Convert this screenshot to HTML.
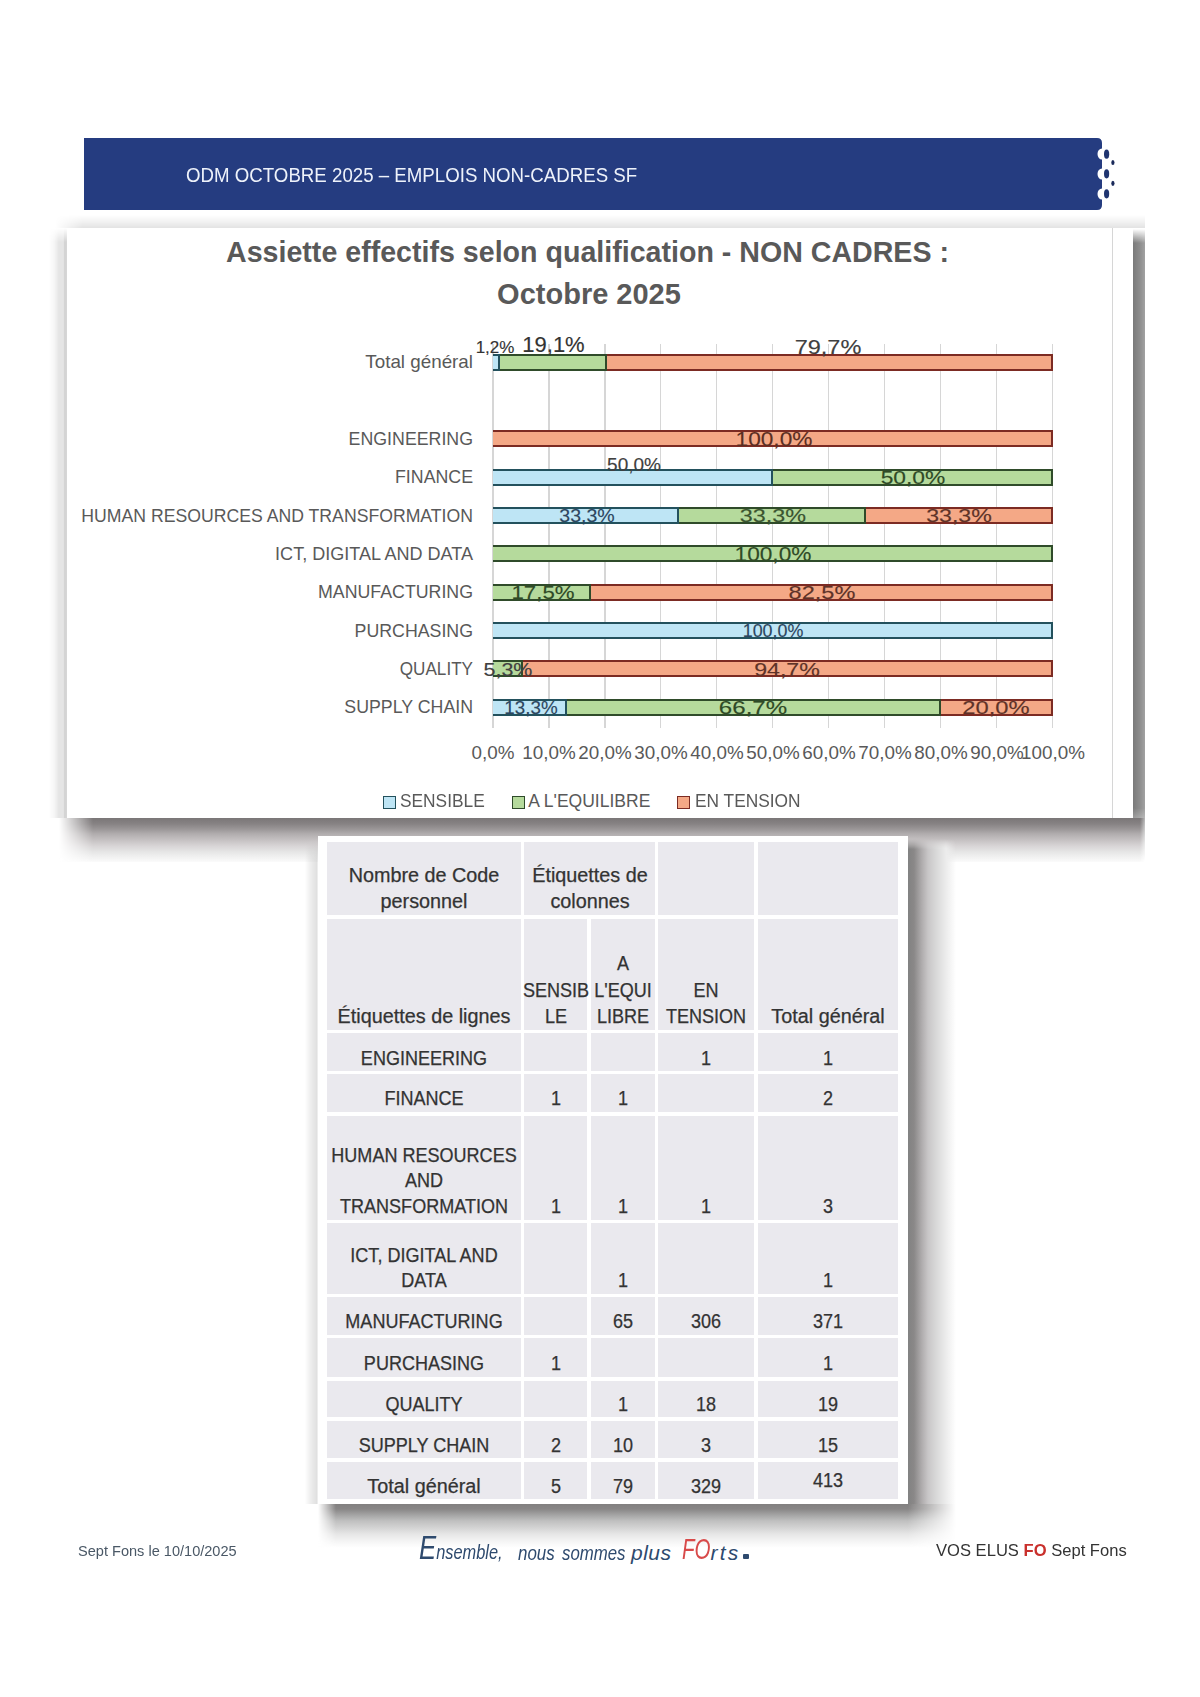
<!DOCTYPE html>
<html><head><meta charset="utf-8">
<style>
html,body{margin:0;padding:0;background:#ffffff;}
body{width:1200px;height:1697px;position:relative;overflow:hidden;font-family:"Liberation Sans",sans-serif;}
.t{position:absolute;white-space:nowrap;}
.r{position:absolute;}
</style></head><body>
<svg class="r" style="left:0;top:0" width="1200" height="260" viewBox="0 0 1200 260">
<path d="M84 138 H1097 Q1102 138 1102 143 V148.5 A4.5 5.5 0 0 0 1102 159.5 V168.5 A4.5 5.5 0 0 0 1102 179.5 V188.5 A4.5 5.5 0 0 0 1102 199.5 V205 Q1102 210 1097 210 H84 Z" fill="#253c80"/>
<ellipse cx="1106.6" cy="154.2" rx="2.6" ry="4.6" fill="#1f3470"/>
<ellipse cx="1106.6" cy="173.8" rx="2.6" ry="4.6" fill="#1f3470"/>
<ellipse cx="1106.6" cy="193.8" rx="2.6" ry="4.6" fill="#1f3470"/>
<ellipse cx="1112.9" cy="162.5" rx="1.6" ry="2.6" fill="#1a2a5a"/>
<ellipse cx="1112.9" cy="183.3" rx="1.6" ry="2.6" fill="#1a2a5a"/>
</svg>
<div class="t" style="left:186.00px;top:165.27px;font-size:20px;line-height:20px;color:#eef2fa;font-weight:400;font-family:'Liberation Sans',sans-serif;font-style:normal;transform:scaleX(0.934);transform-origin:left center;">ODM OCTOBRE 2025 – EMPLOIS NON-CADRES SF</div>
<div class="r" style="left:55.00px;top:215.00px;width:1090.00px;height:13.00px;background:linear-gradient(to bottom, rgba(0,0,0,0), rgba(0,0,0,0.05) 50%, rgba(0,0,0,0.11));mask-image:linear-gradient(to right, transparent 0, #000 28px);-webkit-mask-image:linear-gradient(to right, transparent 0, #000 28px);"></div>
<div class="r" style="left:49.00px;top:228.00px;width:18.00px;height:590.30px;background:linear-gradient(to right, rgba(0,0,0,0), rgba(0,0,0,0.04) 30%, rgba(0,0,0,0.10) 55%, rgba(0,0,0,0.10) 80%, rgba(0,0,0,0.17) 86%, rgba(0,0,0,0.17) 97%, rgba(0,0,0,0.05));mask-image:linear-gradient(to bottom, transparent 0, #000 14px);-webkit-mask-image:linear-gradient(to bottom, transparent 0, #000 14px);"></div>
<div class="r" style="left:1133.00px;top:229.00px;width:12.00px;height:631.30px;background:linear-gradient(to right, #7a7a7a, #8c8c8c 55%, #a2a2a2);mask-image:linear-gradient(to bottom, transparent 0, #000 14px, #000 calc(100% - 52px), rgba(0,0,0,0.6) calc(100% - 36px), rgba(0,0,0,0.2) calc(100% - 16px), transparent 100%);-webkit-mask-image:linear-gradient(to bottom, transparent 0, #000 14px, #000 calc(100% - 52px), rgba(0,0,0,0.6) calc(100% - 36px), rgba(0,0,0,0.2) calc(100% - 16px), transparent 100%);"></div>
<div class="r" style="left:59.00px;top:818.30px;width:1086.00px;height:44.00px;background:linear-gradient(to bottom, #7a7677 0px, #878384 6px, #9a9697 11px, #b1adae 16px, #c5c1c2 22px, #d8d5d6 28px, #e6e6e6 34px, #f3f3f3 40px, rgba(255,255,255,0) 46px);mask-image:linear-gradient(to right, transparent 0px, #000 34px, #000 calc(100% - 5px), transparent 100%);-webkit-mask-image:linear-gradient(to right, transparent 0px, #000 34px, #000 calc(100% - 5px), transparent 100%);"></div>
<div class="r" style="left:67.00px;top:228.00px;width:1066.00px;height:590.30px;background:#ffffff;"></div>
<div class="r" style="left:1112.00px;top:228.00px;width:1.00px;height:590.30px;background:#d6d6d6;"></div>
<div class="t" style="left:587.50px;top:237.79px;font-size:28.6px;line-height:28.6px;color:#595959;font-weight:700;font-family:'Liberation Sans',sans-serif;font-style:normal;transform:translateX(-50%) scaleX(1.0);transform-origin:center center;">Assiette effectifs selon qualification - NON CADRES :</div>
<div class="t" style="left:589.00px;top:279.95px;font-size:29px;line-height:29px;color:#595959;font-weight:700;font-family:'Liberation Sans',sans-serif;font-style:normal;transform:translateX(-50%) scaleX(1.0);transform-origin:center center;">Octobre 2025</div>
<div class="r" style="left:492.40px;top:344.00px;width:1.20px;height:384.00px;background:#d6d6d6;"></div>
<div class="r" style="left:548.36px;top:344.00px;width:1.20px;height:384.00px;background:#d6d6d6;"></div>
<div class="r" style="left:604.32px;top:344.00px;width:1.20px;height:384.00px;background:#d6d6d6;"></div>
<div class="r" style="left:660.28px;top:344.00px;width:1.20px;height:384.00px;background:#d6d6d6;"></div>
<div class="r" style="left:716.24px;top:344.00px;width:1.20px;height:384.00px;background:#d6d6d6;"></div>
<div class="r" style="left:772.20px;top:344.00px;width:1.20px;height:384.00px;background:#d6d6d6;"></div>
<div class="r" style="left:828.16px;top:344.00px;width:1.20px;height:384.00px;background:#d6d6d6;"></div>
<div class="r" style="left:884.12px;top:344.00px;width:1.20px;height:384.00px;background:#d6d6d6;"></div>
<div class="r" style="left:940.08px;top:344.00px;width:1.20px;height:384.00px;background:#d6d6d6;"></div>
<div class="r" style="left:996.04px;top:344.00px;width:1.20px;height:384.00px;background:#d6d6d6;"></div>
<div class="r" style="left:1052.00px;top:344.00px;width:1.20px;height:384.00px;background:#d6d6d6;"></div>
<div class="t" style="left:472.50px;top:352.22px;font-size:19px;line-height:19px;color:#595959;font-weight:400;font-family:'Liberation Sans',sans-serif;font-style:normal;transform:translateX(-100%) scaleX(0.99);transform-origin:right center;">Total général</div>
<div class="r" style="left:493.00px;top:353.60px;width:6.72px;height:17.00px;background:#bee5f5;box-sizing:border-box;border-top:2px solid #23515d;border-bottom:2px solid #23515d;border-right:2px solid #23515d;"></div>
<div class="r" style="left:499.72px;top:353.60px;width:106.88px;height:17.00px;background:#b5da9c;box-sizing:border-box;border-top:2px solid #2f4b2a;border-bottom:2px solid #2f4b2a;border-right:2px solid #2f4b2a;"></div>
<div class="r" style="left:606.60px;top:353.60px;width:446.00px;height:17.00px;background:#f4a886;box-sizing:border-box;border-top:2px solid #7c2b23;border-bottom:2px solid #7c2b23;border-right:2px solid #7c2b23;"></div>
<div class="t" style="left:472.50px;top:428.90px;font-size:19px;line-height:19px;color:#595959;font-weight:400;font-family:'Liberation Sans',sans-serif;font-style:normal;transform:translateX(-100%) scaleX(0.935);transform-origin:right center;">ENGINEERING</div>
<div class="r" style="left:493.00px;top:430.28px;width:559.60px;height:17.00px;background:#f4a886;box-sizing:border-box;border-top:2px solid #7c2b23;border-bottom:2px solid #7c2b23;border-right:2px solid #7c2b23;"></div>
<div class="t" style="left:472.50px;top:467.24px;font-size:19px;line-height:19px;color:#595959;font-weight:400;font-family:'Liberation Sans',sans-serif;font-style:normal;transform:translateX(-100%) scaleX(0.935);transform-origin:right center;">FINANCE</div>
<div class="r" style="left:493.00px;top:468.62px;width:279.80px;height:17.00px;background:#bee5f5;box-sizing:border-box;border-top:2px solid #23515d;border-bottom:2px solid #23515d;border-right:2px solid #23515d;"></div>
<div class="r" style="left:772.80px;top:468.62px;width:279.80px;height:17.00px;background:#b5da9c;box-sizing:border-box;border-top:2px solid #2f4b2a;border-bottom:2px solid #2f4b2a;border-right:2px solid #2f4b2a;"></div>
<div class="t" style="left:472.50px;top:505.58px;font-size:19px;line-height:19px;color:#595959;font-weight:400;font-family:'Liberation Sans',sans-serif;font-style:normal;transform:translateX(-100%) scaleX(0.929);transform-origin:right center;">HUMAN RESOURCES AND TRANSFORMATION</div>
<div class="r" style="left:493.00px;top:506.96px;width:186.35px;height:17.00px;background:#bee5f5;box-sizing:border-box;border-top:2px solid #23515d;border-bottom:2px solid #23515d;border-right:2px solid #23515d;"></div>
<div class="r" style="left:679.35px;top:506.96px;width:186.35px;height:17.00px;background:#b5da9c;box-sizing:border-box;border-top:2px solid #2f4b2a;border-bottom:2px solid #2f4b2a;border-right:2px solid #2f4b2a;"></div>
<div class="r" style="left:865.69px;top:506.96px;width:186.91px;height:17.00px;background:#f4a886;box-sizing:border-box;border-top:2px solid #7c2b23;border-bottom:2px solid #7c2b23;border-right:2px solid #7c2b23;"></div>
<div class="t" style="left:472.50px;top:543.92px;font-size:19px;line-height:19px;color:#595959;font-weight:400;font-family:'Liberation Sans',sans-serif;font-style:normal;transform:translateX(-100%) scaleX(0.95);transform-origin:right center;">ICT, DIGITAL AND DATA</div>
<div class="r" style="left:493.00px;top:545.30px;width:559.60px;height:17.00px;background:#b5da9c;box-sizing:border-box;border-top:2px solid #2f4b2a;border-bottom:2px solid #2f4b2a;border-right:2px solid #2f4b2a;"></div>
<div class="t" style="left:472.50px;top:582.26px;font-size:19px;line-height:19px;color:#595959;font-weight:400;font-family:'Liberation Sans',sans-serif;font-style:normal;transform:translateX(-100%) scaleX(0.935);transform-origin:right center;">MANUFACTURING</div>
<div class="r" style="left:493.00px;top:583.64px;width:97.93px;height:17.00px;background:#b5da9c;box-sizing:border-box;border-top:2px solid #2f4b2a;border-bottom:2px solid #2f4b2a;border-right:2px solid #2f4b2a;"></div>
<div class="r" style="left:590.93px;top:583.64px;width:461.67px;height:17.00px;background:#f4a886;box-sizing:border-box;border-top:2px solid #7c2b23;border-bottom:2px solid #7c2b23;border-right:2px solid #7c2b23;"></div>
<div class="t" style="left:472.50px;top:620.60px;font-size:19px;line-height:19px;color:#595959;font-weight:400;font-family:'Liberation Sans',sans-serif;font-style:normal;transform:translateX(-100%) scaleX(0.935);transform-origin:right center;">PURCHASING</div>
<div class="r" style="left:493.00px;top:621.98px;width:559.60px;height:17.00px;background:#bee5f5;box-sizing:border-box;border-top:2px solid #23515d;border-bottom:2px solid #23515d;border-right:2px solid #23515d;"></div>
<div class="t" style="left:472.50px;top:658.94px;font-size:19px;line-height:19px;color:#595959;font-weight:400;font-family:'Liberation Sans',sans-serif;font-style:normal;transform:translateX(-100%) scaleX(0.9);transform-origin:right center;">QUALITY</div>
<div class="r" style="left:493.00px;top:660.32px;width:29.66px;height:17.00px;background:#b5da9c;box-sizing:border-box;border-top:2px solid #2f4b2a;border-bottom:2px solid #2f4b2a;border-right:2px solid #2f4b2a;"></div>
<div class="r" style="left:522.66px;top:660.32px;width:529.94px;height:17.00px;background:#f4a886;box-sizing:border-box;border-top:2px solid #7c2b23;border-bottom:2px solid #7c2b23;border-right:2px solid #7c2b23;"></div>
<div class="t" style="left:472.50px;top:697.28px;font-size:19px;line-height:19px;color:#595959;font-weight:400;font-family:'Liberation Sans',sans-serif;font-style:normal;transform:translateX(-100%) scaleX(0.935);transform-origin:right center;">SUPPLY CHAIN</div>
<div class="r" style="left:493.00px;top:698.66px;width:74.43px;height:17.00px;background:#bee5f5;box-sizing:border-box;border-top:2px solid #23515d;border-bottom:2px solid #23515d;border-right:2px solid #23515d;"></div>
<div class="r" style="left:567.43px;top:698.66px;width:373.25px;height:17.00px;background:#b5da9c;box-sizing:border-box;border-top:2px solid #2f4b2a;border-bottom:2px solid #2f4b2a;border-right:2px solid #2f4b2a;"></div>
<div class="r" style="left:940.68px;top:698.66px;width:111.92px;height:17.00px;background:#f4a886;box-sizing:border-box;border-top:2px solid #7c2b23;border-bottom:2px solid #7c2b23;border-right:2px solid #7c2b23;"></div>
<div class="t" style="left:495.00px;top:338.71px;font-size:17px;line-height:17px;color:#333333;font-weight:400;font-family:'Liberation Sans',sans-serif;font-style:normal;transform:translateX(-50%) scaleX(1.0);transform-origin:center center;-webkit-text-stroke:0.15px #333333;">1,2%</div>
<div class="t" style="left:553.50px;top:334.48px;font-size:22px;line-height:22px;color:#333333;font-weight:400;font-family:'Liberation Sans',sans-serif;font-style:normal;transform:translateX(-50%) scaleX(1.0);transform-origin:center center;-webkit-text-stroke:0.15px #333333;">19,1%</div>
<div class="t" style="left:827.70px;top:336.32px;font-size:21px;line-height:21px;color:#404040;font-weight:400;font-family:'Liberation Sans',sans-serif;font-style:normal;transform:translateX(-50%) scaleX(1.12);transform-origin:center center;-webkit-text-stroke:0.15px #404040;">79,7%</div>
<div class="t" style="left:773.50px;top:428.00px;font-size:21px;line-height:21px;color:#5a2e22;font-weight:400;font-family:'Liberation Sans',sans-serif;font-style:normal;transform:translateX(-50%) scaleX(1.08);transform-origin:center center;-webkit-text-stroke:0.15px #5a2e22;">100,0%</div>
<div class="t" style="left:634.00px;top:454.54px;font-size:19px;line-height:19px;color:#404040;font-weight:400;font-family:'Liberation Sans',sans-serif;font-style:normal;transform:translateX(-50%) scaleX(1.0);transform-origin:center center;-webkit-text-stroke:0.15px #404040;">50,0%</div>
<div class="t" style="left:912.50px;top:468.04px;font-size:19px;line-height:19px;color:#2f4a26;font-weight:400;font-family:'Liberation Sans',sans-serif;font-style:normal;transform:translateX(-50%) scaleX(1.2);transform-origin:center center;-webkit-text-stroke:0.15px #2f4a26;">50,0%</div>
<div class="t" style="left:586.70px;top:506.38px;font-size:19px;line-height:19px;color:#2c4660;font-weight:400;font-family:'Liberation Sans',sans-serif;font-style:normal;transform:translateX(-50%) scaleX(1.03);transform-origin:center center;-webkit-text-stroke:0.15px #2c4660;">33,3%</div>
<div class="t" style="left:772.70px;top:506.38px;font-size:19px;line-height:19px;color:#3b5530;font-weight:400;font-family:'Liberation Sans',sans-serif;font-style:normal;transform:translateX(-50%) scaleX(1.23);transform-origin:center center;-webkit-text-stroke:0.15px #3b5530;">33,3%</div>
<div class="t" style="left:959.00px;top:506.38px;font-size:19px;line-height:19px;color:#5e3328;font-weight:400;font-family:'Liberation Sans',sans-serif;font-style:normal;transform:translateX(-50%) scaleX(1.22);transform-origin:center center;-webkit-text-stroke:0.15px #5e3328;">33,3%</div>
<div class="t" style="left:773.30px;top:543.02px;font-size:21px;line-height:21px;color:#2f4a26;font-weight:400;font-family:'Liberation Sans',sans-serif;font-style:normal;transform:translateX(-50%) scaleX(1.08);transform-origin:center center;-webkit-text-stroke:0.15px #2f4a26;">100,0%</div>
<div class="t" style="left:543.00px;top:583.06px;font-size:19px;line-height:19px;color:#2f4a26;font-weight:400;font-family:'Liberation Sans',sans-serif;font-style:normal;transform:translateX(-50%) scaleX(1.17);transform-origin:center center;-webkit-text-stroke:0.15px #2f4a26;">17,5%</div>
<div class="t" style="left:822.40px;top:583.06px;font-size:19px;line-height:19px;color:#5e3328;font-weight:400;font-family:'Liberation Sans',sans-serif;font-style:normal;transform:translateX(-50%) scaleX(1.24);transform-origin:center center;-webkit-text-stroke:0.15px #5e3328;">82,5%</div>
<div class="t" style="left:773.00px;top:621.40px;font-size:19px;line-height:19px;color:#2c4660;font-weight:400;font-family:'Liberation Sans',sans-serif;font-style:normal;transform:translateX(-50%) scaleX(0.94);transform-origin:center center;-webkit-text-stroke:0.15px #2c4660;">100,0%</div>
<div class="t" style="left:508.20px;top:659.74px;font-size:19px;line-height:19px;color:#404040;font-weight:400;font-family:'Liberation Sans',sans-serif;font-style:normal;transform:translateX(-50%) scaleX(1.13);transform-origin:center center;-webkit-text-stroke:0.15px #404040;">5,3%</div>
<div class="t" style="left:787.00px;top:659.74px;font-size:19px;line-height:19px;color:#5e3328;font-weight:400;font-family:'Liberation Sans',sans-serif;font-style:normal;transform:translateX(-50%) scaleX(1.22);transform-origin:center center;-webkit-text-stroke:0.15px #5e3328;">94,7%</div>
<div class="t" style="left:530.70px;top:698.08px;font-size:19px;line-height:19px;color:#2c4660;font-weight:400;font-family:'Liberation Sans',sans-serif;font-style:normal;transform:translateX(-50%) scaleX(0.99);transform-origin:center center;-webkit-text-stroke:0.15px #2c4660;">13,3%</div>
<div class="t" style="left:753.20px;top:698.08px;font-size:19px;line-height:19px;color:#2f4a26;font-weight:400;font-family:'Liberation Sans',sans-serif;font-style:normal;transform:translateX(-50%) scaleX(1.27);transform-origin:center center;-webkit-text-stroke:0.15px #2f4a26;">66,7%</div>
<div class="t" style="left:996.20px;top:698.08px;font-size:19px;line-height:19px;color:#5e3328;font-weight:400;font-family:'Liberation Sans',sans-serif;font-style:normal;transform:translateX(-50%) scaleX(1.25);transform-origin:center center;-webkit-text-stroke:0.15px #5e3328;">20,0%</div>
<div class="t" style="left:493.00px;top:743.42px;font-size:19px;line-height:19px;color:#595959;font-weight:400;font-family:'Liberation Sans',sans-serif;font-style:normal;transform:translateX(-50%) scaleX(0.99);transform-origin:center center;">0,0%</div>
<div class="t" style="left:548.96px;top:743.42px;font-size:19px;line-height:19px;color:#595959;font-weight:400;font-family:'Liberation Sans',sans-serif;font-style:normal;transform:translateX(-50%) scaleX(0.99);transform-origin:center center;">10,0%</div>
<div class="t" style="left:604.92px;top:743.42px;font-size:19px;line-height:19px;color:#595959;font-weight:400;font-family:'Liberation Sans',sans-serif;font-style:normal;transform:translateX(-50%) scaleX(0.99);transform-origin:center center;">20,0%</div>
<div class="t" style="left:660.88px;top:743.42px;font-size:19px;line-height:19px;color:#595959;font-weight:400;font-family:'Liberation Sans',sans-serif;font-style:normal;transform:translateX(-50%) scaleX(0.99);transform-origin:center center;">30,0%</div>
<div class="t" style="left:716.84px;top:743.42px;font-size:19px;line-height:19px;color:#595959;font-weight:400;font-family:'Liberation Sans',sans-serif;font-style:normal;transform:translateX(-50%) scaleX(0.99);transform-origin:center center;">40,0%</div>
<div class="t" style="left:772.80px;top:743.42px;font-size:19px;line-height:19px;color:#595959;font-weight:400;font-family:'Liberation Sans',sans-serif;font-style:normal;transform:translateX(-50%) scaleX(0.99);transform-origin:center center;">50,0%</div>
<div class="t" style="left:828.76px;top:743.42px;font-size:19px;line-height:19px;color:#595959;font-weight:400;font-family:'Liberation Sans',sans-serif;font-style:normal;transform:translateX(-50%) scaleX(0.99);transform-origin:center center;">60,0%</div>
<div class="t" style="left:884.72px;top:743.42px;font-size:19px;line-height:19px;color:#595959;font-weight:400;font-family:'Liberation Sans',sans-serif;font-style:normal;transform:translateX(-50%) scaleX(0.99);transform-origin:center center;">70,0%</div>
<div class="t" style="left:940.68px;top:743.42px;font-size:19px;line-height:19px;color:#595959;font-weight:400;font-family:'Liberation Sans',sans-serif;font-style:normal;transform:translateX(-50%) scaleX(0.99);transform-origin:center center;">80,0%</div>
<div class="t" style="left:996.64px;top:743.42px;font-size:19px;line-height:19px;color:#595959;font-weight:400;font-family:'Liberation Sans',sans-serif;font-style:normal;transform:translateX(-50%) scaleX(0.99);transform-origin:center center;">90,0%</div>
<div class="t" style="left:1052.60px;top:743.42px;font-size:19px;line-height:19px;color:#595959;font-weight:400;font-family:'Liberation Sans',sans-serif;font-style:normal;transform:translateX(-50%) scaleX(0.99);transform-origin:center center;">100,0%</div>
<div class="r" style="left:383.30px;top:795.50px;width:13.00px;height:13.00px;background:#bee5f5;box-sizing:border-box;border:1.5px solid #23515d;"></div>
<div class="t" style="left:400.00px;top:792.69px;font-size:17.5px;line-height:17.5px;color:#595959;font-weight:400;font-family:'Liberation Sans',sans-serif;font-style:normal;transform:scaleX(0.99);transform-origin:left center;">SENSIBLE</div>
<div class="r" style="left:511.50px;top:795.50px;width:13.00px;height:13.00px;background:#b5da9c;box-sizing:border-box;border:1.5px solid #2f4b2a;"></div>
<div class="t" style="left:528.30px;top:792.69px;font-size:17.5px;line-height:17.5px;color:#595959;font-weight:400;font-family:'Liberation Sans',sans-serif;font-style:normal;">A L'EQUILIBRE</div>
<div class="r" style="left:676.50px;top:795.50px;width:13.00px;height:13.00px;background:#f4a886;box-sizing:border-box;border:1.5px solid #7c2b23;"></div>
<div class="t" style="left:694.80px;top:792.69px;font-size:17.5px;line-height:17.5px;color:#595959;font-weight:400;font-family:'Liberation Sans',sans-serif;font-style:normal;transform:scaleX(0.99);transform-origin:left center;">EN TENSION</div>
<div class="r" style="left:305.00px;top:842.00px;width:13.00px;height:661.50px;background:linear-gradient(to right, rgba(0,0,0,0), rgba(0,0,0,0.07) 45%, rgba(0,0,0,0.12) 90%, rgba(0,0,0,0.04));mask-image:linear-gradient(to bottom, transparent 0, #000 20px);-webkit-mask-image:linear-gradient(to bottom, transparent 0, #000 20px);"></div>
<div class="r" style="left:908.00px;top:839.00px;width:48.00px;height:664.50px;background:linear-gradient(to right, #828282 0px, #8a8888 6px, #b0adae 14px, #c8c6c7 20px, #d8d8d8 28px, #ececec 38px, rgba(255,255,255,0) 48px);mask-image:linear-gradient(to bottom, transparent 0, #000 10px);-webkit-mask-image:linear-gradient(to bottom, transparent 0, #000 10px);"></div>
<div class="r" style="left:318.00px;top:1503.50px;width:638.00px;height:44.00px;background:linear-gradient(to bottom, #828080 0px, #888686 5px, #a9a9a9 12px, #c0c0c0 17px, #d4d4d4 24px, #e6e6e6 30px, #f4f4f4 37px, rgba(255,255,255,0) 44px);mask-image:linear-gradient(to right, transparent 0px, #000 18px, #000 calc(100% - 48px), transparent 100%);-webkit-mask-image:linear-gradient(to right, transparent 0px, #000 18px, #000 calc(100% - 48px), transparent 100%);"></div>
<div class="r" style="left:318.00px;top:836.00px;width:590.00px;height:667.50px;background:#ffffff;"></div>
<div class="r" style="left:327.00px;top:842.00px;width:194.00px;height:73.00px;background:#eae9ee;"></div>
<div class="r" style="left:524.00px;top:842.00px;width:131.00px;height:73.00px;background:#eae9ee;"></div>
<div class="r" style="left:658.00px;top:842.00px;width:96.00px;height:73.00px;background:#eae9ee;"></div>
<div class="r" style="left:758.00px;top:842.00px;width:139.50px;height:73.00px;background:#eae9ee;"></div>
<div class="r" style="left:327.00px;top:919.00px;width:194.00px;height:111.00px;background:#eae9ee;"></div>
<div class="r" style="left:524.00px;top:919.00px;width:63.00px;height:111.00px;background:#eae9ee;"></div>
<div class="r" style="left:591.00px;top:919.00px;width:64.00px;height:111.00px;background:#eae9ee;"></div>
<div class="r" style="left:658.00px;top:919.00px;width:96.00px;height:111.00px;background:#eae9ee;"></div>
<div class="r" style="left:758.00px;top:919.00px;width:139.50px;height:111.00px;background:#eae9ee;"></div>
<div class="r" style="left:327.00px;top:1033.00px;width:194.00px;height:38.00px;background:#eae9ee;"></div>
<div class="r" style="left:524.00px;top:1033.00px;width:63.00px;height:38.00px;background:#eae9ee;"></div>
<div class="r" style="left:591.00px;top:1033.00px;width:64.00px;height:38.00px;background:#eae9ee;"></div>
<div class="r" style="left:658.00px;top:1033.00px;width:96.00px;height:38.00px;background:#eae9ee;"></div>
<div class="r" style="left:758.00px;top:1033.00px;width:139.50px;height:38.00px;background:#eae9ee;"></div>
<div class="r" style="left:327.00px;top:1074.00px;width:194.00px;height:38.00px;background:#eae9ee;"></div>
<div class="r" style="left:524.00px;top:1074.00px;width:63.00px;height:38.00px;background:#eae9ee;"></div>
<div class="r" style="left:591.00px;top:1074.00px;width:64.00px;height:38.00px;background:#eae9ee;"></div>
<div class="r" style="left:658.00px;top:1074.00px;width:96.00px;height:38.00px;background:#eae9ee;"></div>
<div class="r" style="left:758.00px;top:1074.00px;width:139.50px;height:38.00px;background:#eae9ee;"></div>
<div class="r" style="left:327.00px;top:1116.00px;width:194.00px;height:104.00px;background:#eae9ee;"></div>
<div class="r" style="left:524.00px;top:1116.00px;width:63.00px;height:104.00px;background:#eae9ee;"></div>
<div class="r" style="left:591.00px;top:1116.00px;width:64.00px;height:104.00px;background:#eae9ee;"></div>
<div class="r" style="left:658.00px;top:1116.00px;width:96.00px;height:104.00px;background:#eae9ee;"></div>
<div class="r" style="left:758.00px;top:1116.00px;width:139.50px;height:104.00px;background:#eae9ee;"></div>
<div class="r" style="left:327.00px;top:1223.00px;width:194.00px;height:71.00px;background:#eae9ee;"></div>
<div class="r" style="left:524.00px;top:1223.00px;width:63.00px;height:71.00px;background:#eae9ee;"></div>
<div class="r" style="left:591.00px;top:1223.00px;width:64.00px;height:71.00px;background:#eae9ee;"></div>
<div class="r" style="left:658.00px;top:1223.00px;width:96.00px;height:71.00px;background:#eae9ee;"></div>
<div class="r" style="left:758.00px;top:1223.00px;width:139.50px;height:71.00px;background:#eae9ee;"></div>
<div class="r" style="left:327.00px;top:1297.00px;width:194.00px;height:38.00px;background:#eae9ee;"></div>
<div class="r" style="left:524.00px;top:1297.00px;width:63.00px;height:38.00px;background:#eae9ee;"></div>
<div class="r" style="left:591.00px;top:1297.00px;width:64.00px;height:38.00px;background:#eae9ee;"></div>
<div class="r" style="left:658.00px;top:1297.00px;width:96.00px;height:38.00px;background:#eae9ee;"></div>
<div class="r" style="left:758.00px;top:1297.00px;width:139.50px;height:38.00px;background:#eae9ee;"></div>
<div class="r" style="left:327.00px;top:1338.00px;width:194.00px;height:39.00px;background:#eae9ee;"></div>
<div class="r" style="left:524.00px;top:1338.00px;width:63.00px;height:39.00px;background:#eae9ee;"></div>
<div class="r" style="left:591.00px;top:1338.00px;width:64.00px;height:39.00px;background:#eae9ee;"></div>
<div class="r" style="left:658.00px;top:1338.00px;width:96.00px;height:39.00px;background:#eae9ee;"></div>
<div class="r" style="left:758.00px;top:1338.00px;width:139.50px;height:39.00px;background:#eae9ee;"></div>
<div class="r" style="left:327.00px;top:1381.00px;width:194.00px;height:36.00px;background:#eae9ee;"></div>
<div class="r" style="left:524.00px;top:1381.00px;width:63.00px;height:36.00px;background:#eae9ee;"></div>
<div class="r" style="left:591.00px;top:1381.00px;width:64.00px;height:36.00px;background:#eae9ee;"></div>
<div class="r" style="left:658.00px;top:1381.00px;width:96.00px;height:36.00px;background:#eae9ee;"></div>
<div class="r" style="left:758.00px;top:1381.00px;width:139.50px;height:36.00px;background:#eae9ee;"></div>
<div class="r" style="left:327.00px;top:1421.00px;width:194.00px;height:37.00px;background:#eae9ee;"></div>
<div class="r" style="left:524.00px;top:1421.00px;width:63.00px;height:37.00px;background:#eae9ee;"></div>
<div class="r" style="left:591.00px;top:1421.00px;width:64.00px;height:37.00px;background:#eae9ee;"></div>
<div class="r" style="left:658.00px;top:1421.00px;width:96.00px;height:37.00px;background:#eae9ee;"></div>
<div class="r" style="left:758.00px;top:1421.00px;width:139.50px;height:37.00px;background:#eae9ee;"></div>
<div class="r" style="left:327.00px;top:1462.00px;width:194.00px;height:37.00px;background:#eae9ee;"></div>
<div class="r" style="left:524.00px;top:1462.00px;width:63.00px;height:37.00px;background:#eae9ee;"></div>
<div class="r" style="left:591.00px;top:1462.00px;width:64.00px;height:37.00px;background:#eae9ee;"></div>
<div class="r" style="left:658.00px;top:1462.00px;width:96.00px;height:37.00px;background:#eae9ee;"></div>
<div class="r" style="left:758.00px;top:1462.00px;width:139.50px;height:37.00px;background:#eae9ee;"></div>
<div class="t" style="left:424.00px;top:866.49px;font-size:19.5px;line-height:19.5px;color:#333333;font-weight:400;font-family:'Liberation Sans',sans-serif;font-style:normal;transform:translateX(-50%) scaleX(1.015);transform-origin:center center;-webkit-text-stroke:0.25px #333333;">Nombre de Code</div>
<div class="t" style="left:424.00px;top:891.99px;font-size:19.5px;line-height:19.5px;color:#333333;font-weight:400;font-family:'Liberation Sans',sans-serif;font-style:normal;transform:translateX(-50%) scaleX(1.015);transform-origin:center center;-webkit-text-stroke:0.25px #333333;">personnel</div>
<div class="t" style="left:589.50px;top:866.49px;font-size:19.5px;line-height:19.5px;color:#333333;font-weight:400;font-family:'Liberation Sans',sans-serif;font-style:normal;transform:translateX(-50%) scaleX(1.015);transform-origin:center center;-webkit-text-stroke:0.25px #333333;">Étiquettes de</div>
<div class="t" style="left:589.50px;top:891.99px;font-size:19.5px;line-height:19.5px;color:#333333;font-weight:400;font-family:'Liberation Sans',sans-serif;font-style:normal;transform:translateX(-50%) scaleX(1.015);transform-origin:center center;-webkit-text-stroke:0.25px #333333;">colonnes</div>
<div class="t" style="left:424.00px;top:1006.79px;font-size:19.5px;line-height:19.5px;color:#333333;font-weight:400;font-family:'Liberation Sans',sans-serif;font-style:normal;transform:translateX(-50%) scaleX(1.015);transform-origin:center center;-webkit-text-stroke:0.25px #333333;">Étiquettes de lignes</div>
<div class="t" style="left:555.50px;top:980.89px;font-size:19.5px;line-height:19.5px;color:#333333;font-weight:400;font-family:'Liberation Sans',sans-serif;font-style:normal;transform:translateX(-50%) scaleX(0.925);transform-origin:center center;-webkit-text-stroke:0.25px #333333;">SENSIB</div>
<div class="t" style="left:555.50px;top:1006.69px;font-size:19.5px;line-height:19.5px;color:#333333;font-weight:400;font-family:'Liberation Sans',sans-serif;font-style:normal;transform:translateX(-50%) scaleX(0.925);transform-origin:center center;-webkit-text-stroke:0.25px #333333;">LE</div>
<div class="t" style="left:623.00px;top:954.49px;font-size:19.5px;line-height:19.5px;color:#333333;font-weight:400;font-family:'Liberation Sans',sans-serif;font-style:normal;transform:translateX(-50%) scaleX(0.925);transform-origin:center center;-webkit-text-stroke:0.25px #333333;">A</div>
<div class="t" style="left:623.00px;top:980.89px;font-size:19.5px;line-height:19.5px;color:#333333;font-weight:400;font-family:'Liberation Sans',sans-serif;font-style:normal;transform:translateX(-50%) scaleX(0.925);transform-origin:center center;-webkit-text-stroke:0.25px #333333;">L'EQUI</div>
<div class="t" style="left:623.00px;top:1006.69px;font-size:19.5px;line-height:19.5px;color:#333333;font-weight:400;font-family:'Liberation Sans',sans-serif;font-style:normal;transform:translateX(-50%) scaleX(0.925);transform-origin:center center;-webkit-text-stroke:0.25px #333333;">LIBRE</div>
<div class="t" style="left:706.00px;top:980.89px;font-size:19.5px;line-height:19.5px;color:#333333;font-weight:400;font-family:'Liberation Sans',sans-serif;font-style:normal;transform:translateX(-50%) scaleX(0.925);transform-origin:center center;-webkit-text-stroke:0.25px #333333;">EN</div>
<div class="t" style="left:706.00px;top:1006.69px;font-size:19.5px;line-height:19.5px;color:#333333;font-weight:400;font-family:'Liberation Sans',sans-serif;font-style:normal;transform:translateX(-50%) scaleX(0.925);transform-origin:center center;-webkit-text-stroke:0.25px #333333;">TENSION</div>
<div class="t" style="left:827.75px;top:1006.79px;font-size:19.5px;line-height:19.5px;color:#333333;font-weight:400;font-family:'Liberation Sans',sans-serif;font-style:normal;transform:translateX(-50%) scaleX(1.015);transform-origin:center center;-webkit-text-stroke:0.25px #333333;">Total général</div>
<div class="t" style="left:424.00px;top:1049.49px;font-size:19.5px;line-height:19.5px;color:#333333;font-weight:400;font-family:'Liberation Sans',sans-serif;font-style:normal;transform:translateX(-50%) scaleX(0.925);transform-origin:center center;-webkit-text-stroke:0.25px #333333;">ENGINEERING</div>
<div class="t" style="left:706.00px;top:1049.49px;font-size:19.5px;line-height:19.5px;color:#333333;font-weight:400;font-family:'Liberation Sans',sans-serif;font-style:normal;transform:translateX(-50%) scaleX(0.925);transform-origin:center center;-webkit-text-stroke:0.25px #333333;">1</div>
<div class="t" style="left:827.75px;top:1049.49px;font-size:19.5px;line-height:19.5px;color:#333333;font-weight:400;font-family:'Liberation Sans',sans-serif;font-style:normal;transform:translateX(-50%) scaleX(0.925);transform-origin:center center;-webkit-text-stroke:0.25px #333333;">1</div>
<div class="t" style="left:424.00px;top:1088.69px;font-size:19.5px;line-height:19.5px;color:#333333;font-weight:400;font-family:'Liberation Sans',sans-serif;font-style:normal;transform:translateX(-50%) scaleX(0.925);transform-origin:center center;-webkit-text-stroke:0.25px #333333;">FINANCE</div>
<div class="t" style="left:555.50px;top:1088.69px;font-size:19.5px;line-height:19.5px;color:#333333;font-weight:400;font-family:'Liberation Sans',sans-serif;font-style:normal;transform:translateX(-50%) scaleX(0.925);transform-origin:center center;-webkit-text-stroke:0.25px #333333;">1</div>
<div class="t" style="left:623.00px;top:1088.69px;font-size:19.5px;line-height:19.5px;color:#333333;font-weight:400;font-family:'Liberation Sans',sans-serif;font-style:normal;transform:translateX(-50%) scaleX(0.925);transform-origin:center center;-webkit-text-stroke:0.25px #333333;">1</div>
<div class="t" style="left:827.75px;top:1088.69px;font-size:19.5px;line-height:19.5px;color:#333333;font-weight:400;font-family:'Liberation Sans',sans-serif;font-style:normal;transform:translateX(-50%) scaleX(0.925);transform-origin:center center;-webkit-text-stroke:0.25px #333333;">2</div>
<div class="t" style="left:424.00px;top:1145.59px;font-size:19.5px;line-height:19.5px;color:#333333;font-weight:400;font-family:'Liberation Sans',sans-serif;font-style:normal;transform:translateX(-50%) scaleX(0.925);transform-origin:center center;-webkit-text-stroke:0.25px #333333;">HUMAN RESOURCES</div>
<div class="t" style="left:424.00px;top:1171.39px;font-size:19.5px;line-height:19.5px;color:#333333;font-weight:400;font-family:'Liberation Sans',sans-serif;font-style:normal;transform:translateX(-50%) scaleX(0.925);transform-origin:center center;-webkit-text-stroke:0.25px #333333;">AND</div>
<div class="t" style="left:424.00px;top:1197.19px;font-size:19.5px;line-height:19.5px;color:#333333;font-weight:400;font-family:'Liberation Sans',sans-serif;font-style:normal;transform:translateX(-50%) scaleX(0.925);transform-origin:center center;-webkit-text-stroke:0.25px #333333;">TRANSFORMATION</div>
<div class="t" style="left:555.50px;top:1197.19px;font-size:19.5px;line-height:19.5px;color:#333333;font-weight:400;font-family:'Liberation Sans',sans-serif;font-style:normal;transform:translateX(-50%) scaleX(0.925);transform-origin:center center;-webkit-text-stroke:0.25px #333333;">1</div>
<div class="t" style="left:623.00px;top:1197.19px;font-size:19.5px;line-height:19.5px;color:#333333;font-weight:400;font-family:'Liberation Sans',sans-serif;font-style:normal;transform:translateX(-50%) scaleX(0.925);transform-origin:center center;-webkit-text-stroke:0.25px #333333;">1</div>
<div class="t" style="left:706.00px;top:1197.19px;font-size:19.5px;line-height:19.5px;color:#333333;font-weight:400;font-family:'Liberation Sans',sans-serif;font-style:normal;transform:translateX(-50%) scaleX(0.925);transform-origin:center center;-webkit-text-stroke:0.25px #333333;">1</div>
<div class="t" style="left:827.75px;top:1197.19px;font-size:19.5px;line-height:19.5px;color:#333333;font-weight:400;font-family:'Liberation Sans',sans-serif;font-style:normal;transform:translateX(-50%) scaleX(0.925);transform-origin:center center;-webkit-text-stroke:0.25px #333333;">3</div>
<div class="t" style="left:424.00px;top:1245.69px;font-size:19.5px;line-height:19.5px;color:#333333;font-weight:400;font-family:'Liberation Sans',sans-serif;font-style:normal;transform:translateX(-50%) scaleX(0.925);transform-origin:center center;-webkit-text-stroke:0.25px #333333;">ICT, DIGITAL AND</div>
<div class="t" style="left:424.00px;top:1271.49px;font-size:19.5px;line-height:19.5px;color:#333333;font-weight:400;font-family:'Liberation Sans',sans-serif;font-style:normal;transform:translateX(-50%) scaleX(0.925);transform-origin:center center;-webkit-text-stroke:0.25px #333333;">DATA</div>
<div class="t" style="left:623.00px;top:1271.49px;font-size:19.5px;line-height:19.5px;color:#333333;font-weight:400;font-family:'Liberation Sans',sans-serif;font-style:normal;transform:translateX(-50%) scaleX(0.925);transform-origin:center center;-webkit-text-stroke:0.25px #333333;">1</div>
<div class="t" style="left:827.75px;top:1271.49px;font-size:19.5px;line-height:19.5px;color:#333333;font-weight:400;font-family:'Liberation Sans',sans-serif;font-style:normal;transform:translateX(-50%) scaleX(0.925);transform-origin:center center;-webkit-text-stroke:0.25px #333333;">1</div>
<div class="t" style="left:424.00px;top:1311.79px;font-size:19.5px;line-height:19.5px;color:#333333;font-weight:400;font-family:'Liberation Sans',sans-serif;font-style:normal;transform:translateX(-50%) scaleX(0.925);transform-origin:center center;-webkit-text-stroke:0.25px #333333;">MANUFACTURING</div>
<div class="t" style="left:623.00px;top:1311.79px;font-size:19.5px;line-height:19.5px;color:#333333;font-weight:400;font-family:'Liberation Sans',sans-serif;font-style:normal;transform:translateX(-50%) scaleX(0.925);transform-origin:center center;-webkit-text-stroke:0.25px #333333;">65</div>
<div class="t" style="left:706.00px;top:1311.79px;font-size:19.5px;line-height:19.5px;color:#333333;font-weight:400;font-family:'Liberation Sans',sans-serif;font-style:normal;transform:translateX(-50%) scaleX(0.925);transform-origin:center center;-webkit-text-stroke:0.25px #333333;">306</div>
<div class="t" style="left:827.75px;top:1311.79px;font-size:19.5px;line-height:19.5px;color:#333333;font-weight:400;font-family:'Liberation Sans',sans-serif;font-style:normal;transform:translateX(-50%) scaleX(0.925);transform-origin:center center;-webkit-text-stroke:0.25px #333333;">371</div>
<div class="t" style="left:424.00px;top:1354.19px;font-size:19.5px;line-height:19.5px;color:#333333;font-weight:400;font-family:'Liberation Sans',sans-serif;font-style:normal;transform:translateX(-50%) scaleX(0.925);transform-origin:center center;-webkit-text-stroke:0.25px #333333;">PURCHASING</div>
<div class="t" style="left:555.50px;top:1354.19px;font-size:19.5px;line-height:19.5px;color:#333333;font-weight:400;font-family:'Liberation Sans',sans-serif;font-style:normal;transform:translateX(-50%) scaleX(0.925);transform-origin:center center;-webkit-text-stroke:0.25px #333333;">1</div>
<div class="t" style="left:827.75px;top:1354.19px;font-size:19.5px;line-height:19.5px;color:#333333;font-weight:400;font-family:'Liberation Sans',sans-serif;font-style:normal;transform:translateX(-50%) scaleX(0.925);transform-origin:center center;-webkit-text-stroke:0.25px #333333;">1</div>
<div class="t" style="left:424.00px;top:1394.99px;font-size:19.5px;line-height:19.5px;color:#333333;font-weight:400;font-family:'Liberation Sans',sans-serif;font-style:normal;transform:translateX(-50%) scaleX(0.925);transform-origin:center center;-webkit-text-stroke:0.25px #333333;">QUALITY</div>
<div class="t" style="left:623.00px;top:1394.99px;font-size:19.5px;line-height:19.5px;color:#333333;font-weight:400;font-family:'Liberation Sans',sans-serif;font-style:normal;transform:translateX(-50%) scaleX(0.925);transform-origin:center center;-webkit-text-stroke:0.25px #333333;">1</div>
<div class="t" style="left:706.00px;top:1394.99px;font-size:19.5px;line-height:19.5px;color:#333333;font-weight:400;font-family:'Liberation Sans',sans-serif;font-style:normal;transform:translateX(-50%) scaleX(0.925);transform-origin:center center;-webkit-text-stroke:0.25px #333333;">18</div>
<div class="t" style="left:827.75px;top:1394.99px;font-size:19.5px;line-height:19.5px;color:#333333;font-weight:400;font-family:'Liberation Sans',sans-serif;font-style:normal;transform:translateX(-50%) scaleX(0.925);transform-origin:center center;-webkit-text-stroke:0.25px #333333;">19</div>
<div class="t" style="left:424.00px;top:1436.29px;font-size:19.5px;line-height:19.5px;color:#333333;font-weight:400;font-family:'Liberation Sans',sans-serif;font-style:normal;transform:translateX(-50%) scaleX(0.925);transform-origin:center center;-webkit-text-stroke:0.25px #333333;">SUPPLY CHAIN</div>
<div class="t" style="left:555.50px;top:1436.29px;font-size:19.5px;line-height:19.5px;color:#333333;font-weight:400;font-family:'Liberation Sans',sans-serif;font-style:normal;transform:translateX(-50%) scaleX(0.925);transform-origin:center center;-webkit-text-stroke:0.25px #333333;">2</div>
<div class="t" style="left:623.00px;top:1436.29px;font-size:19.5px;line-height:19.5px;color:#333333;font-weight:400;font-family:'Liberation Sans',sans-serif;font-style:normal;transform:translateX(-50%) scaleX(0.925);transform-origin:center center;-webkit-text-stroke:0.25px #333333;">10</div>
<div class="t" style="left:706.00px;top:1436.29px;font-size:19.5px;line-height:19.5px;color:#333333;font-weight:400;font-family:'Liberation Sans',sans-serif;font-style:normal;transform:translateX(-50%) scaleX(0.925);transform-origin:center center;-webkit-text-stroke:0.25px #333333;">3</div>
<div class="t" style="left:827.75px;top:1436.29px;font-size:19.5px;line-height:19.5px;color:#333333;font-weight:400;font-family:'Liberation Sans',sans-serif;font-style:normal;transform:translateX(-50%) scaleX(0.925);transform-origin:center center;-webkit-text-stroke:0.25px #333333;">15</div>
<div class="t" style="left:424.00px;top:1477.09px;font-size:19.5px;line-height:19.5px;color:#333333;font-weight:400;font-family:'Liberation Sans',sans-serif;font-style:normal;transform:translateX(-50%) scaleX(1.015);transform-origin:center center;-webkit-text-stroke:0.25px #333333;">Total général</div>
<div class="t" style="left:555.50px;top:1477.09px;font-size:19.5px;line-height:19.5px;color:#333333;font-weight:400;font-family:'Liberation Sans',sans-serif;font-style:normal;transform:translateX(-50%) scaleX(0.925);transform-origin:center center;-webkit-text-stroke:0.25px #333333;">5</div>
<div class="t" style="left:623.00px;top:1477.09px;font-size:19.5px;line-height:19.5px;color:#333333;font-weight:400;font-family:'Liberation Sans',sans-serif;font-style:normal;transform:translateX(-50%) scaleX(0.925);transform-origin:center center;-webkit-text-stroke:0.25px #333333;">79</div>
<div class="t" style="left:706.00px;top:1477.09px;font-size:19.5px;line-height:19.5px;color:#333333;font-weight:400;font-family:'Liberation Sans',sans-serif;font-style:normal;transform:translateX(-50%) scaleX(0.925);transform-origin:center center;-webkit-text-stroke:0.25px #333333;">329</div>
<div class="t" style="left:827.75px;top:1471.09px;font-size:19.5px;line-height:19.5px;color:#333333;font-weight:400;font-family:'Liberation Sans',sans-serif;font-style:normal;transform:translateX(-50%) scaleX(0.925);transform-origin:center center;-webkit-text-stroke:0.25px #333333;">413</div>
<div class="t" style="left:77.50px;top:1543.85px;font-size:14px;line-height:14px;color:#4a5866;font-weight:400;font-family:'Liberation Sans',sans-serif;font-style:normal;transform:scaleX(1.04);transform-origin:left center;">Sept Fons le 10/10/2025</div>
<div class="t" style="left:418.50px;top:1537.42px;font-size:21px;line-height:21px;color:#2e4a6e;font-family:'Liberation Sans',sans-serif;font-style:italic;letter-spacing:0.00px;transform:scaleX(0.779);transform-origin:left center;"><span style="font-size:33px">E</span>nsemble,</div>
<div class="t" style="left:518.00px;top:1541.52px;font-size:21px;line-height:21px;color:#2e4a6e;font-family:'Liberation Sans',sans-serif;font-style:italic;letter-spacing:0.00px;transform:scaleX(0.806);transform-origin:left center;">nous</div>
<div class="t" style="left:561.50px;top:1541.52px;font-size:21px;line-height:21px;color:#2e4a6e;font-family:'Liberation Sans',sans-serif;font-style:italic;letter-spacing:0.00px;transform:scaleX(0.800);transform-origin:left center;">sommes</div>
<div class="t" style="left:631.00px;top:1541.52px;font-size:21px;line-height:21px;color:#2e4a6e;font-family:'Liberation Sans',sans-serif;font-style:italic;letter-spacing:0.49px;transform:scaleX(1.000);transform-origin:left center;">plus</div>
<div class="t" style="left:682.00px;top:1538.72px;font-size:21px;line-height:21px;color:#d84a4a;font-family:'Liberation Sans',sans-serif;font-style:italic;letter-spacing:0.00px;transform:scaleX(0.708);transform-origin:left center;"><span style="font-size:29px">FO</span></div>
<div class="t" style="left:710.50px;top:1541.52px;font-size:21px;line-height:21px;color:#2e4a6e;font-family:'Liberation Sans',sans-serif;font-style:italic;letter-spacing:2.22px;transform:scaleX(1.000);transform-origin:left center;">rts</div>
<div class="r" style="left:743.00px;top:1553.50px;width:5.50px;height:5.50px;background:#2e4a6e;border-radius:1px;"></div>
<div class="t" style="left:935.70px;top:1542.01px;font-size:17px;line-height:17px;color:#333333;font-weight:400;font-family:'Liberation Sans',sans-serif;font-style:normal;transform:scaleX(0.975);transform-origin:left center;">VOS ELUS <b style="color:#c9302c">FO</b> Sept Fons</div>
</body></html>
